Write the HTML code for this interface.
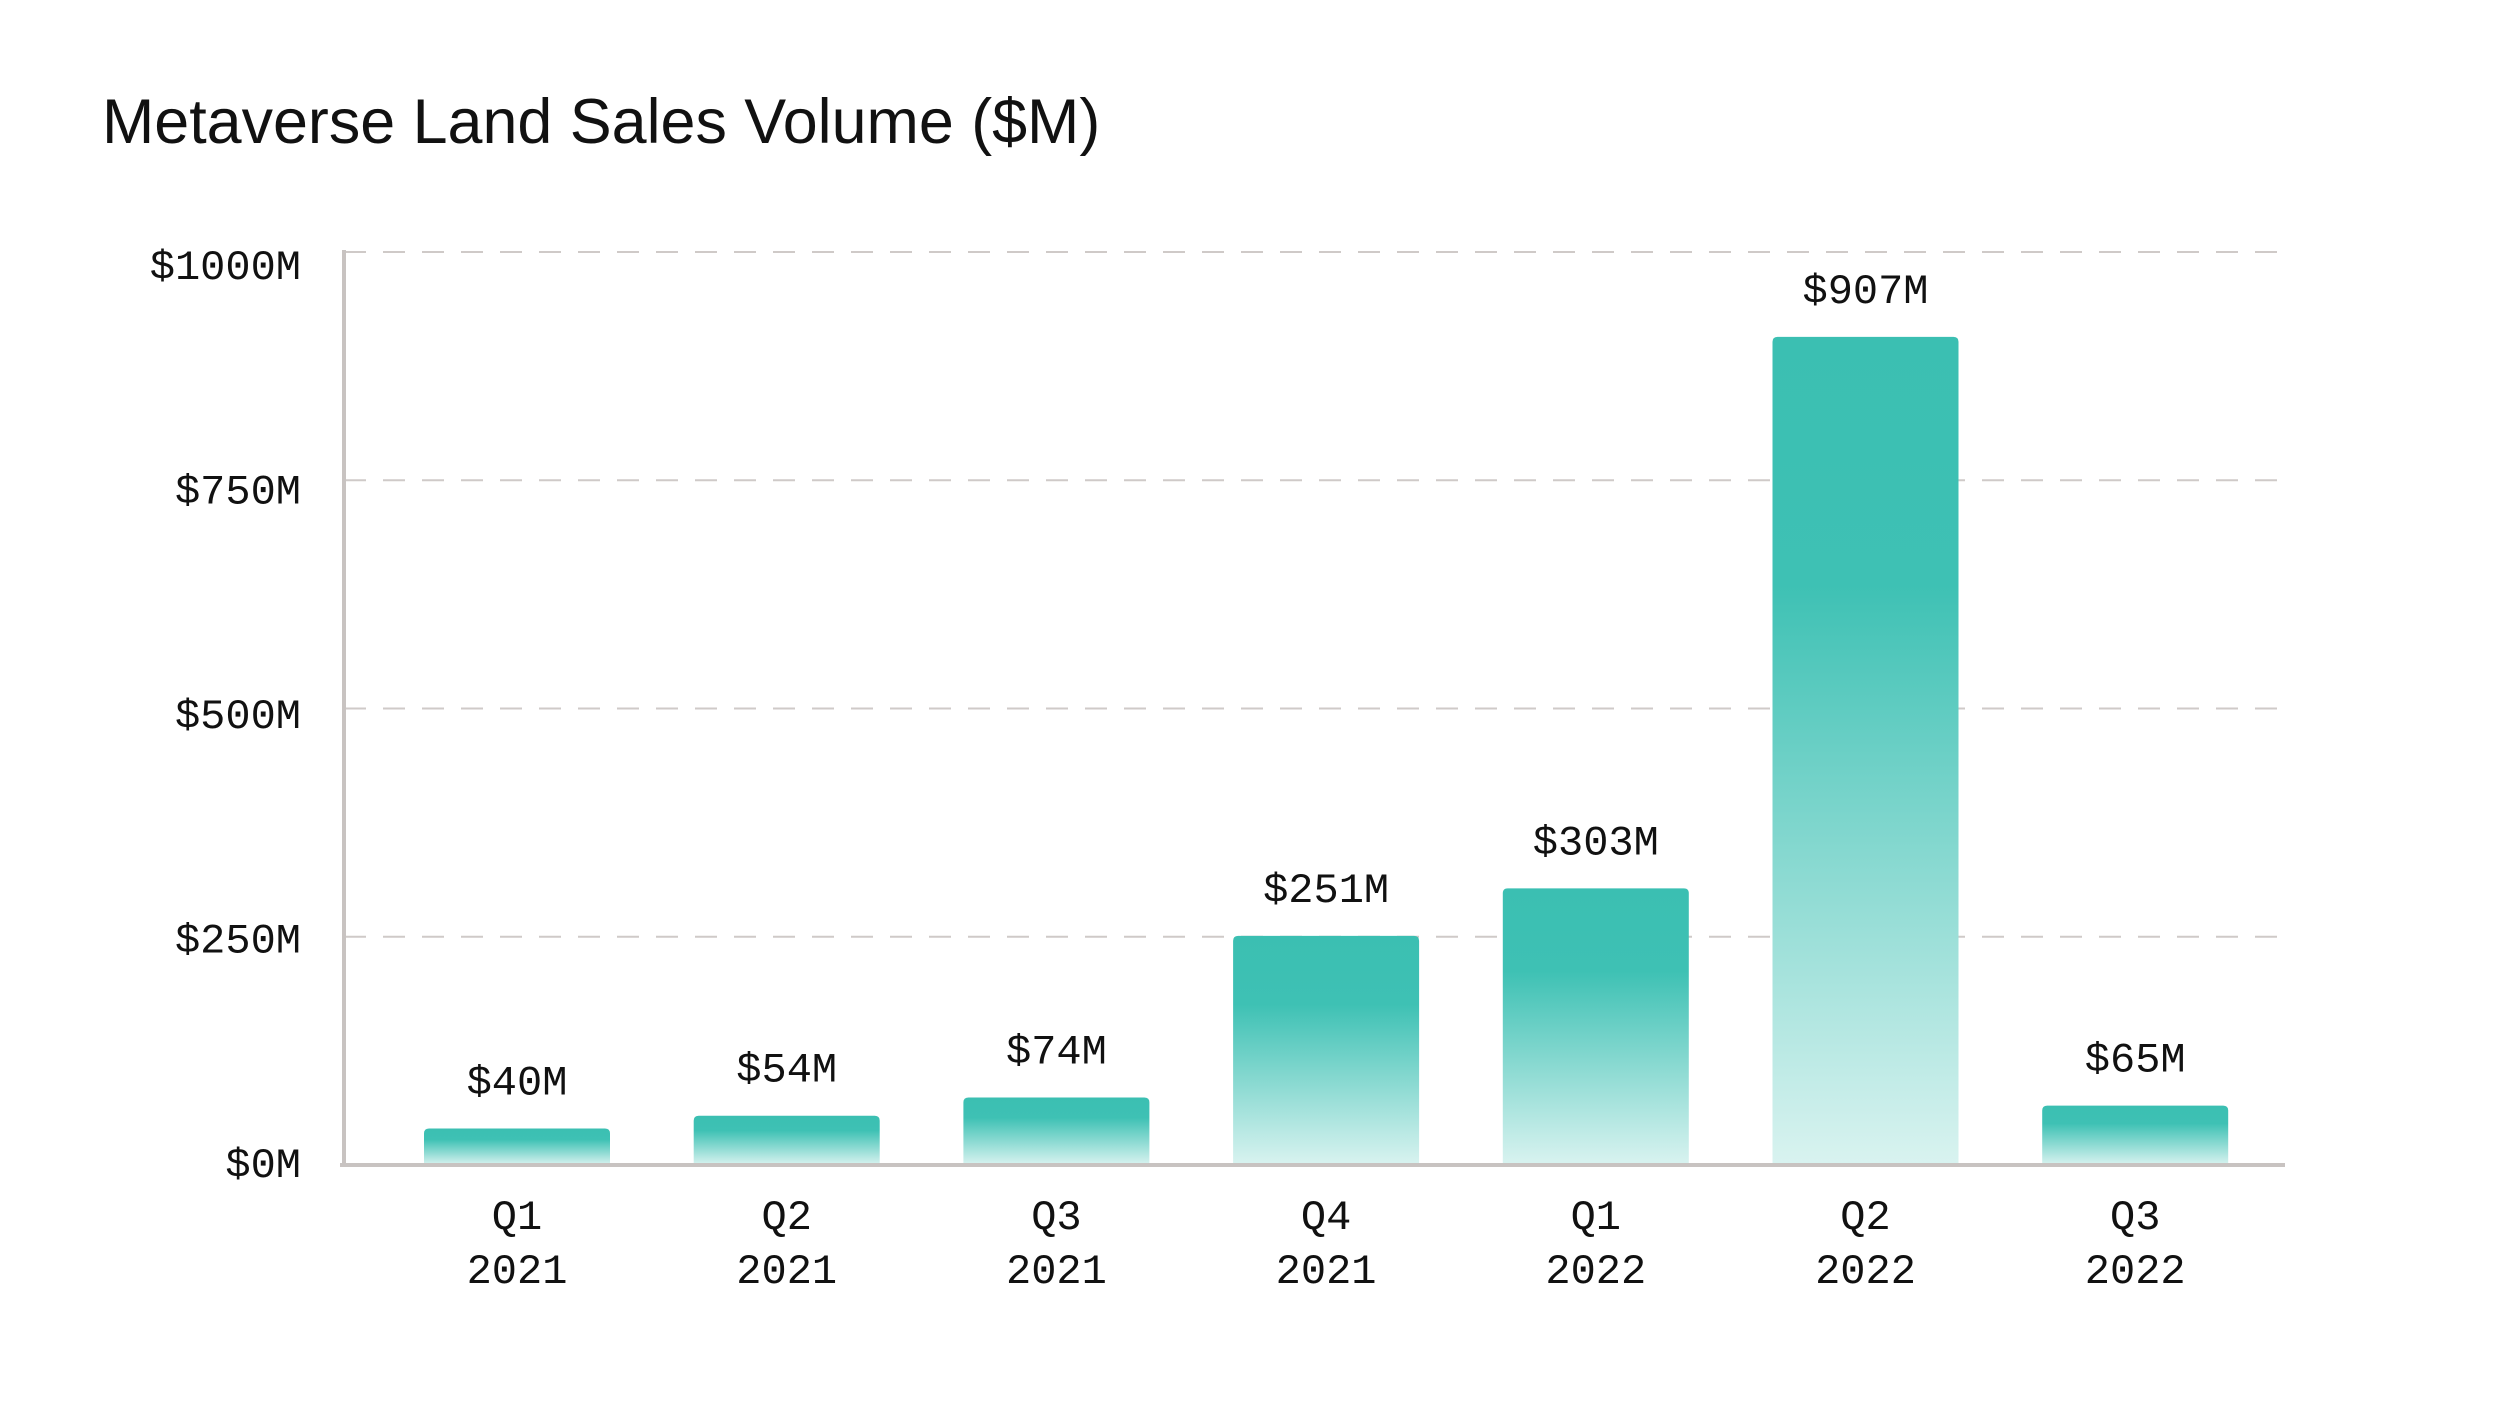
<!DOCTYPE html>
<html><head><meta charset="utf-8"><style>
html,body{margin:0;padding:0;background:#fff;}
svg{display:block;}
</style></head><body>
<svg id="chart" width="2500" height="1407" viewBox="0 0 2500 1407" xmlns="http://www.w3.org/2000/svg">
<defs>
<linearGradient id="g" x1="0" y1="0" x2="0" y2="1">
<stop offset="0" stop-color="#3bbfb2"/><stop offset="0.3" stop-color="#3ec1b4"/><stop offset="1" stop-color="#d9f3f0"/>
</linearGradient>
</defs>
<text x="102" y="143" font-family="Liberation Sans, sans-serif" font-size="62.8" fill="#111">Metaverse Land Sales Volume ($M)</text>
<g id="grid"></g><g id="bars"></g><g id="labels"></g>
</svg>
<script>
const categories = ["Q1|2021","Q2|2021","Q3|2021","Q4|2021","Q1|2022","Q2|2022","Q3|2022"];
const values = [40,54,74,251,303,907,65];
const valueLabels = ["$40M","$54M","$74M","$251M","$303M","$907M","$65M"];
const ticks = [0,250,500,750,1000];
const tickLabels = ["$0M","$250M","$500M","$750M","$1000M"];
const NS="http://www.w3.org/2000/svg";
const x0=344,x1=2285,y0=1165,y1=252,bw=186,step=269.7,first=517;
const yS=v=>y0-(v/1000)*(y0-y1);
const yL=v=>1163-(v/1000)*898;
const xS=i=>first+i*step;
function mk(t,a,p){const e=document.createElementNS(NS,t);for(const k in a)e.setAttribute(k,a[k]);p.appendChild(e);return e;}
const grid=document.getElementById('grid'),bars=document.getElementById('bars'),labels=document.getElementById('labels');
ticks.forEach((t,i)=>{
  const y=yS(t);
  if(t>0){const l=mk('line',{x1:x0,x2:x1,y1:y,y2:y,stroke:'#cfcac8','stroke-width':2,'stroke-dasharray':'22 17'},grid);
  
  }
  const tx=mk('text',{x:301,y:yL(t)+14,'text-anchor':'end','font-family':'Liberation Mono, monospace','font-size':42,fill:'#111'},labels);
  tx.textContent=tickLabels[i];
  
  
});
values.forEach((v,i)=>{
  const cx=xS(i),top=yS(v),h=y0-top,r=5;
  const p=mk('path',{d:`M${cx-bw/2},${y0}V${top+r}Q${cx-bw/2},${top} ${cx-bw/2+r},${top}H${cx+bw/2-r}Q${cx+bw/2},${top} ${cx+bw/2},${top+r}V${y0}Z`,fill:'url(#g)'},bars);
  
  
  const vl=mk('text',{x:cx,y:top-34,'text-anchor':'middle','font-family':'Liberation Mono, monospace','font-size':42,fill:'#111'},labels);
  vl.textContent=valueLabels[i];
  
  
  const [q,yr]=categories[i].split('|');
  const a=mk('text',{x:cx,y:1229,'text-anchor':'middle','font-family':'Liberation Mono, monospace','font-size':42,fill:'#111'},labels);
  a.textContent=q;
  
  
  const b=mk('text',{x:cx,y:1283,'text-anchor':'middle','font-family':'Liberation Mono, monospace','font-size':42,fill:'#111'},labels);
  b.textContent=yr;
  
  
});
const ax=mk('line',{x1:x0,x2:x0,y1:y1-2,y2:y0+2,stroke:'#c8c3c1','stroke-width':4},labels);


const bx=mk('line',{x1:x0-4,x2:x1,y1:y0,y2:y0,stroke:'#c8c3c1','stroke-width':4},labels);


</script>
</body></html>
